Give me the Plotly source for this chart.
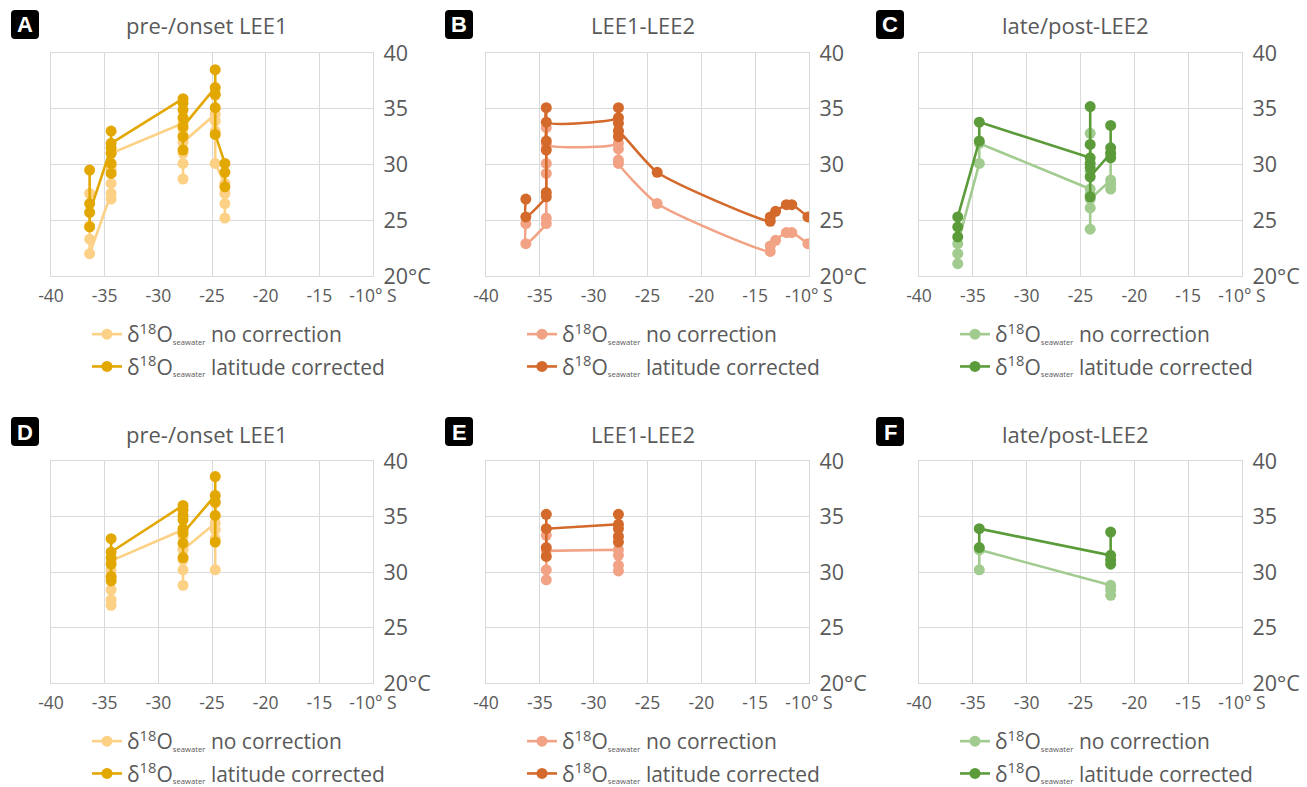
import plotly.graph_objects as go

W, H = 1307, 787

# ---------------- data (latitude °S as negative, temperature °C) ----------------
# Panel A: pre-/onset LEE1
A_lat_nc = [-36.4]*4 + [-34.4]*6 + [-27.7]*7 + [-24.7]*5 + [-23.8]*4
A_tmp_nc = [27.4, 24.5, 23.3, 22.0,
            27.4, 26.9, 28.3, 29.5, 29.8, 31.0,
            33.7, 33.2, 32.6, 30.1, 28.7, 31.0, 32.0,
            34.5, 36.2, 33.9, 33.0, 30.1,
            28.3, 25.2, 26.5, 27.4]
A_lat_lc = [-36.4]*4 + [-34.4]*6 + [-27.7]*7 + [-24.7]*5 + [-23.8]*3
A_tmp_lc = [29.5, 26.5, 24.4, 25.7,
            31.5, 29.2, 30.1, 31.0, 33.0, 31.9,
            35.9, 35.5, 34.9, 34.2, 32.5, 31.3, 33.4,
            36.9, 38.5, 36.3, 35.1, 32.7,
            30.1, 28.0, 29.3]

# Panel B: LEE1-LEE2
B_lat_nc = [-36.3]*2 + [-34.4]*6 + [-27.7]*5 + [-24.1, -13.6, -13.6, -13.1, -12.1, -11.6, -10.1]
B_tmp_nc = [24.7, 22.9,
            24.7, 25.2, 29.2, 30.1, 33.3, 31.8,
            31.9, 33.0, 31.4, 30.4, 30.1,
            26.5, 22.2, 22.7, 23.2, 23.9, 23.9, 22.9]
B_lat_lc = [-36.3]*2 + [-34.4]*6 + [-27.7]*5 + [-24.1, -13.6, -13.6, -13.1, -12.1, -11.6, -10.1]
B_tmp_lc = [26.9, 25.3,
            27.1, 27.5, 31.3, 32.1, 35.1, 33.8,
            34.2, 35.1, 33.7, 32.5, 33.0,
            29.3, 24.9, 25.3, 25.8, 26.4, 26.4, 25.3]

# Panel C: late/post-LEE2
C_lat_nc = [-36.4]*3 + [-34.4]*2 + [-24.1]*7 + [-22.2]*4
C_tmp_nc = [21.1, 22.0, 22.9,
            30.1, 31.9,
            27.8, 32.8, 29.4, 27.3, 26.1, 24.2, 26.9,
            28.6, 31.0, 28.2, 27.8]
C_lat_lc = [-36.4]*3 + [-34.4]*2 + [-24.1]*7 + [-22.2]*4
C_tmp_lc = [23.5, 24.4, 25.3,
            32.1, 33.8,
            30.6, 31.8, 35.2, 30.1, 29.7, 27.1, 28.9,
            31.0, 33.5, 31.5, 30.6]

# Panel D: pre-/onset LEE1 (subset)
D_lat_nc = [-34.4]*6 + [-27.7]*7 + [-24.7]*5
D_tmp_nc = [27.0, 27.5, 28.4, 29.5, 30.2, 31.0,
            33.8, 33.2, 32.1, 30.2, 28.8, 31.1, 32.0,
            34.4, 36.2, 33.8, 33.0, 30.2]
D_lat_lc = [-34.4]*6 + [-27.7]*8 + [-24.7]*5
D_tmp_lc = [31.3, 29.2, 29.6, 30.7, 33.0, 31.8,
            36.0, 35.6, 35.1, 34.7, 33.9, 32.6, 31.3, 33.5,
            36.9, 38.6, 36.3, 35.1, 32.7]

# Panel E: LEE1-LEE2 (subset)
E_lat_nc = [-34.4]*4 + [-27.7]*4
E_tmp_nc = [29.3, 30.2, 33.3, 31.9,
            32.0, 31.5, 30.6, 30.1]
E_lat_lc = [-34.4]*4 + [-27.7]*5
E_tmp_lc = [31.4, 32.2, 35.2, 33.9,
            34.3, 35.2, 33.9, 33.2, 32.7]

# Panel F: late/post-LEE2 (subset)
F_lat_nc = [-34.4]*2 + [-22.2]*3
F_tmp_nc = [30.2, 32.0, 28.8, 28.4, 27.9]
F_lat_lc = [-34.4]*2 + [-22.2]*4
F_tmp_lc = [32.2, 33.9, 31.5, 33.6, 31.1, 30.7]

titles = ["pre-/onset LEE1", "LEE1-LEE2", "late/post-LEE2",
          "pre-/onset LEE1", "LEE1-LEE2", "late/post-LEE2"]
letters = ["A", "B", "C", "D", "E", "F"]
x_ticks = [-40, -35, -30, -25, -20, -15, -10]
x_ticktext = ["-40", "-35", "-30", "-25", "-20", "-15", "-10° S"]
y_ticks = [20, 25, 30, 35, 40]
y_ticktext = ["20°C", "25", "30", "35", "40"]

colors_nc = ["#FDD185", "#F2A386", "#A2CB8F"]
colors_lc = ["#E2A700", "#D3692A", "#5C9B3A"]

panels = [
    (A_lat_nc, A_tmp_nc, A_lat_lc, A_tmp_lc, "linear"),
    (B_lat_nc, B_tmp_nc, B_lat_lc, B_tmp_lc, "spline"),
    (C_lat_nc, C_tmp_nc, C_lat_lc, C_tmp_lc, "linear"),
    (D_lat_nc, D_tmp_nc, D_lat_lc, D_tmp_lc, "linear"),
    (E_lat_nc, E_tmp_nc, E_lat_lc, E_tmp_lc, "linear"),
    (F_lat_nc, F_tmp_nc, F_lat_lc, F_tmp_lc, "linear"),
]

# ---------------- layout geometry (window pixels) ----------------
col_x = [(51, 373), (486, 809), (919, 1242)]
row_y = [(53, 276), (461, 683)]

def px(x):
    return x / W

def py(y):
    return 1 - y / H

fig = go.Figure()
font_fam = "Open Sans, Noto Sans, sans-serif"
grey = "#595959"
sub = lambda s: ("δ<sup>18</sup>O<span style='font-size:11px'><sub>seawater</sub></span> " + s)

layout = dict(
    width=W, height=H, margin=dict(l=0, r=0, t=0, b=0, autoexpand=False),
    paper_bgcolor="white", plot_bgcolor="white",
    font=dict(family=font_fam, color=grey, size=18),
    shapes=[], annotations=[],
)

k = 0
for i, (lx_nc, ty_nc, lx_lc, ty_lc, shape) in enumerate(panels):
    r, c = divmod(i, 3)
    x0, x1 = col_x[c]
    y0, y1 = row_y[r]
    ax = "" if i == 0 else str(i + 1)
    lg = "legend" if i == 0 else f"legend{i + 1}"
    for xs, ys, colr, name in [(lx_nc, ty_nc, colors_nc[c], sub("no correction")),
                               (lx_lc, ty_lc, colors_lc[c], sub("latitude corrected"))]:
        k += 1
        fig.add_trace(go.Scatter(
            x=xs, y=ys, mode="lines+markers", name=name, legendgroup=f"g{k}",
            line=dict(color=colr, width=2.6, shape=shape, smoothing=0.6),
            marker=dict(color=colr, size=11),
            xaxis="x" + ax, yaxis="y" + ax, legend=lg, showlegend=True,
        ))
    layout["xaxis" + ax] = dict(
        domain=[px(x0), px(x1)], anchor="y" + ax, range=[-40, -10], automargin=False,
        tickvals=x_ticks, ticktext=x_ticktext, showgrid=True, gridcolor="#D9D9D9",
        gridwidth=1.3, showline=True, mirror=True, linecolor="#D9D9D9", linewidth=1.3,
        zeroline=False, ticks="", tickfont=dict(size=17.5, color=grey), fixedrange=True,
        ticklabelstandoff=4,
    )
    layout["yaxis" + ax] = dict(
        domain=[py(y1), py(y0)], anchor="x" + ax, range=[20, 40], side="right", automargin=False,
        tickvals=y_ticks, ticktext=y_ticktext, showgrid=True, gridcolor="#D9D9D9",
        gridwidth=1.3, showline=True, mirror=True, linecolor="#D9D9D9", linewidth=1.3,
        zeroline=False, ticks="", tickfont=dict(size=21.5, color=grey), fixedrange=True,
        ticklabelstandoff=5,
    )
    # legend
    layout[lg] = dict(
        x=px(x0 + 36), y=py(y1 + 38), xanchor="left", yanchor="top",
        font=dict(size=21, color=grey, family=font_fam), bgcolor="rgba(0,0,0,0)",
        tracegroupgap=2, itemwidth=30, orientation="v",
    )
    # title
    title_y = 25 if r == 0 else 434
    layout["annotations"].append(dict(
        text=titles[i], x=px((x0 + x1) / 2 - 5), y=py(title_y), xref="paper", yref="paper",
        showarrow=False, xanchor="center", yanchor="middle",
        font=dict(size=22, color=grey, family=font_fam),
    ))
    # letter box
    bx0 = [11, 445, 876][c]
    by0 = 10 if r == 0 else 417
    bw, bh, rad = 28, 29, 4
    bx1, by1 = bx0 + bw, by0 + bh
    path = (f"M {px(bx0 + rad)} {py(by0)} L {px(bx1 - rad)} {py(by0)} "
            f"Q {px(bx1)} {py(by0)} {px(bx1)} {py(by0 + rad)} "
            f"L {px(bx1)} {py(by1 - rad)} Q {px(bx1)} {py(by1)} {px(bx1 - rad)} {py(by1)} "
            f"L {px(bx0 + rad)} {py(by1)} Q {px(bx0)} {py(by1)} {px(bx0)} {py(by1 - rad)} "
            f"L {px(bx0)} {py(by0 + rad)} Q {px(bx0)} {py(by0)} {px(bx0 + rad)} {py(by0)} Z")
    layout["shapes"].append(dict(type="path", path=path, xref="paper", yref="paper",
                                 fillcolor="black", line=dict(width=0), layer="above"))
    layout["annotations"].append(dict(
        text=f"<b>{letters[i]}</b>", x=px(bx0 + bw / 2), y=py(by0 + bh / 2 + 0.5),
        xref="paper", yref="paper", showarrow=False, xanchor="center", yanchor="middle",
        font=dict(size=22, color="white", family="Liberation Sans, Arial, sans-serif"),
    ))

fig.update_layout(**layout)
# remove the default page margin so the 1307x787 figure fills the window exactly
fig.write_html("out.html", config={"displayModeBar": False},
               post_script="document.body.style.margin='0';document.body.style.overflow='hidden';")
